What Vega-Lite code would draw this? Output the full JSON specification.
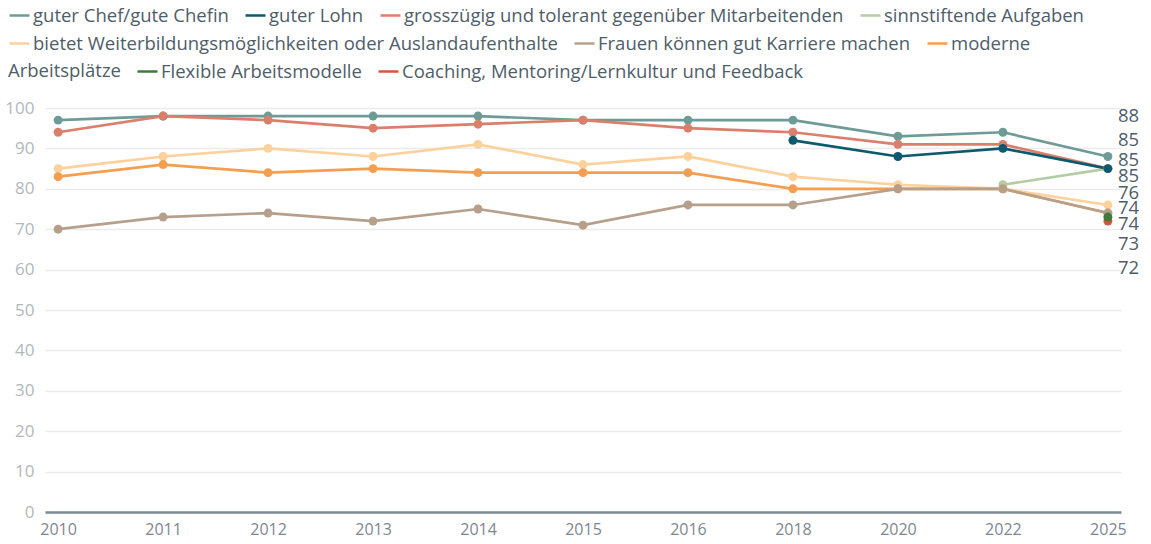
{
  "$schema": "https://vega.github.io/schema/vega-lite/v6.json",
  "width": 1076,
  "height": 404,
  "autosize": {"type": "none"},
  "padding": {"left": 45, "top": 108, "right": 30, "bottom": 32},
  "background": "white",
  "datasets": {
    "umfrage": [
      {"jahr": "2010", "merkmal": "guter Chef/gute Chefin", "wert": 97},
      {"jahr": "2011", "merkmal": "guter Chef/gute Chefin", "wert": 98},
      {"jahr": "2012", "merkmal": "guter Chef/gute Chefin", "wert": 98},
      {"jahr": "2013", "merkmal": "guter Chef/gute Chefin", "wert": 98},
      {"jahr": "2014", "merkmal": "guter Chef/gute Chefin", "wert": 98},
      {"jahr": "2015", "merkmal": "guter Chef/gute Chefin", "wert": 97},
      {"jahr": "2016", "merkmal": "guter Chef/gute Chefin", "wert": 97},
      {"jahr": "2018", "merkmal": "guter Chef/gute Chefin", "wert": 97},
      {"jahr": "2020", "merkmal": "guter Chef/gute Chefin", "wert": 93},
      {"jahr": "2022", "merkmal": "guter Chef/gute Chefin", "wert": 94},
      {"jahr": "2025", "merkmal": "guter Chef/gute Chefin", "wert": 88},
      {"jahr": "2010", "merkmal": "grosszügig und tolerant gegenüber Mitarbeitenden", "wert": 94},
      {"jahr": "2011", "merkmal": "grosszügig und tolerant gegenüber Mitarbeitenden", "wert": 98},
      {"jahr": "2012", "merkmal": "grosszügig und tolerant gegenüber Mitarbeitenden", "wert": 97},
      {"jahr": "2013", "merkmal": "grosszügig und tolerant gegenüber Mitarbeitenden", "wert": 95},
      {"jahr": "2014", "merkmal": "grosszügig und tolerant gegenüber Mitarbeitenden", "wert": 96},
      {"jahr": "2015", "merkmal": "grosszügig und tolerant gegenüber Mitarbeitenden", "wert": 97},
      {"jahr": "2016", "merkmal": "grosszügig und tolerant gegenüber Mitarbeitenden", "wert": 95},
      {"jahr": "2018", "merkmal": "grosszügig und tolerant gegenüber Mitarbeitenden", "wert": 94},
      {"jahr": "2020", "merkmal": "grosszügig und tolerant gegenüber Mitarbeitenden", "wert": 91},
      {"jahr": "2022", "merkmal": "grosszügig und tolerant gegenüber Mitarbeitenden", "wert": 91},
      {"jahr": "2025", "merkmal": "grosszügig und tolerant gegenüber Mitarbeitenden", "wert": 85},
      {"jahr": "2022", "merkmal": "sinnstiftende Aufgaben", "wert": 81},
      {"jahr": "2025", "merkmal": "sinnstiftende Aufgaben", "wert": 85},
      {"jahr": "2018", "merkmal": "guter Lohn", "wert": 92},
      {"jahr": "2020", "merkmal": "guter Lohn", "wert": 88},
      {"jahr": "2022", "merkmal": "guter Lohn", "wert": 90},
      {"jahr": "2025", "merkmal": "guter Lohn", "wert": 85},
      {"jahr": "2010", "merkmal": "bietet Weiterbildungsmöglichkeiten oder Auslandaufenthalte", "wert": 85},
      {"jahr": "2011", "merkmal": "bietet Weiterbildungsmöglichkeiten oder Auslandaufenthalte", "wert": 88},
      {"jahr": "2012", "merkmal": "bietet Weiterbildungsmöglichkeiten oder Auslandaufenthalte", "wert": 90},
      {"jahr": "2013", "merkmal": "bietet Weiterbildungsmöglichkeiten oder Auslandaufenthalte", "wert": 88},
      {"jahr": "2014", "merkmal": "bietet Weiterbildungsmöglichkeiten oder Auslandaufenthalte", "wert": 91},
      {"jahr": "2015", "merkmal": "bietet Weiterbildungsmöglichkeiten oder Auslandaufenthalte", "wert": 86},
      {"jahr": "2016", "merkmal": "bietet Weiterbildungsmöglichkeiten oder Auslandaufenthalte", "wert": 88},
      {"jahr": "2018", "merkmal": "bietet Weiterbildungsmöglichkeiten oder Auslandaufenthalte", "wert": 83},
      {"jahr": "2020", "merkmal": "bietet Weiterbildungsmöglichkeiten oder Auslandaufenthalte", "wert": 81},
      {"jahr": "2022", "merkmal": "bietet Weiterbildungsmöglichkeiten oder Auslandaufenthalte", "wert": 80},
      {"jahr": "2025", "merkmal": "bietet Weiterbildungsmöglichkeiten oder Auslandaufenthalte", "wert": 76},
      {"jahr": "2010", "merkmal": "moderne Arbeitsplätze", "wert": 83},
      {"jahr": "2011", "merkmal": "moderne Arbeitsplätze", "wert": 86},
      {"jahr": "2012", "merkmal": "moderne Arbeitsplätze", "wert": 84},
      {"jahr": "2013", "merkmal": "moderne Arbeitsplätze", "wert": 85},
      {"jahr": "2014", "merkmal": "moderne Arbeitsplätze", "wert": 84},
      {"jahr": "2015", "merkmal": "moderne Arbeitsplätze", "wert": 84},
      {"jahr": "2016", "merkmal": "moderne Arbeitsplätze", "wert": 84},
      {"jahr": "2018", "merkmal": "moderne Arbeitsplätze", "wert": 80},
      {"jahr": "2020", "merkmal": "moderne Arbeitsplätze", "wert": 80},
      {"jahr": "2022", "merkmal": "moderne Arbeitsplätze", "wert": 80},
      {"jahr": "2025", "merkmal": "moderne Arbeitsplätze", "wert": 74},
      {"jahr": "2010", "merkmal": "Frauen können gut Karriere machen", "wert": 70},
      {"jahr": "2011", "merkmal": "Frauen können gut Karriere machen", "wert": 73},
      {"jahr": "2012", "merkmal": "Frauen können gut Karriere machen", "wert": 74},
      {"jahr": "2013", "merkmal": "Frauen können gut Karriere machen", "wert": 72},
      {"jahr": "2014", "merkmal": "Frauen können gut Karriere machen", "wert": 75},
      {"jahr": "2015", "merkmal": "Frauen können gut Karriere machen", "wert": 71},
      {"jahr": "2016", "merkmal": "Frauen können gut Karriere machen", "wert": 76},
      {"jahr": "2018", "merkmal": "Frauen können gut Karriere machen", "wert": 76},
      {"jahr": "2020", "merkmal": "Frauen können gut Karriere machen", "wert": 80},
      {"jahr": "2022", "merkmal": "Frauen können gut Karriere machen", "wert": 80},
      {"jahr": "2025", "merkmal": "Frauen können gut Karriere machen", "wert": 74},
      {"jahr": "2025", "merkmal": "Coaching, Mentoring/Lernkultur und Feedback", "wert": 72},
      {"jahr": "2025", "merkmal": "Flexible Arbeitsmodelle", "wert": 73}
    ]
  },
  "data": {"name": "umfrage"},
  "encoding": {
    "x": {
      "field": "jahr",
      "type": "ordinal",
      "scale": {"type": "point", "padding": 0.125},
      "axis": {
        "title": null,
        "ticks": false,
        "domain": true,
        "domainColor": "#7d8a93",
        "domainWidth": 2.5,
        "labelAngle": 0,
        "labelPadding": 9,
        "labelFont": "Open Sans",
        "labelFontSize": 16,
        "labelColor": "#7d878f",
        "grid": false
      }
    },
    "y": {
      "field": "wert",
      "type": "quantitative",
      "scale": {"domain": [0, 100], "nice": false},
      "axis": {
        "title": null,
        "values": [0, 10, 20, 30, 40, 50, 60, 70, 80, 90, 100],
        "ticks": false,
        "domain": false,
        "grid": true,
        "gridColor": "#ebebeb",
        "gridWidth": 1.5,
        "labelPadding": 11,
        "labelFont": "Open Sans",
        "labelFontSize": 17,
        "labelColor": "#b3b7bb"
      }
    }
  },
  "layer": [
    {
      "transform": [{"filter": {"field": "merkmal", "oneOf": ["guter Chef/gute Chefin", "guter Lohn", "grosszügig und tolerant gegenüber Mitarbeitenden", "sinnstiftende Aufgaben"]}}],
      "encoding": {
        "color": {
          "field": "merkmal",
          "type": "nominal",
          "scale": {
            "domain": ["guter Chef/gute Chefin", "guter Lohn", "grosszügig und tolerant gegenüber Mitarbeitenden", "sinnstiftende Aufgaben"],
            "range": ["#6f9b97", "#0b5a6d", "#db7f6d", "#b2cca4"]
          },
          "legend": {"orient": "none", "legendX": -37, "legendY": -104, "direction": "horizontal", "title": null}
        }
      },
      "layer": [
        {"mark": {"type": "line", "strokeWidth": 2.7}},
        {"mark": {"type": "point", "filled": true, "size": 80, "opacity": 1}}
      ]
    },
    {
      "transform": [{"filter": {"field": "merkmal", "oneOf": ["bietet Weiterbildungsmöglichkeiten oder Auslandaufenthalte", "Frauen können gut Karriere machen", "moderne Arbeitsplätze"]}}],
      "encoding": {
        "color": {
          "field": "merkmal",
          "type": "nominal",
          "scale": {
            "domain": ["bietet Weiterbildungsmöglichkeiten oder Auslandaufenthalte", "Frauen können gut Karriere machen", "moderne Arbeitsplätze"],
            "range": ["#fdd19c", "#b6a08b", "#f59e50"]
          },
          "legend": {
            "orient": "none", "legendX": -37, "legendY": -76, "direction": "horizontal", "title": null,
            "labelExpr": "datum.label == 'moderne Arbeitsplätze' ? 'moderne' : datum.label"
          }
        }
      },
      "layer": [
        {"mark": {"type": "line", "strokeWidth": 2.7}},
        {"mark": {"type": "point", "filled": true, "size": 80, "opacity": 1}}
      ]
    },
    {
      "transform": [{"filter": {"field": "merkmal", "oneOf": ["Flexible Arbeitsmodelle", "Coaching, Mentoring/Lernkultur und Feedback"]}}],
      "encoding": {
        "color": {
          "field": "merkmal",
          "type": "nominal",
          "scale": {
            "domain": ["Coaching, Mentoring/Lernkultur und Feedback", "Flexible Arbeitsmodelle"],
            "range": ["#d4563b", "#3e7b3b"]
          },
          "legend": {
            "orient": "none", "legendX": -37, "legendY": -48, "direction": "horizontal",
            "title": "Arbeitsplätze",
            "titleOrient": "left",
            "titleFont": "Open Sans",
            "titleFontSize": 18.5,
            "titleFontWeight": "normal",
            "titleColor": "#4f5d69",
            "titlePadding": 15,
            "values": ["Flexible Arbeitsmodelle", "Coaching, Mentoring/Lernkultur und Feedback"]
          }
        }
      },
      "layer": [
        {"mark": {"type": "line", "strokeWidth": 2.7}},
        {"mark": {"type": "point", "filled": true, "size": 80, "opacity": 1}}
      ]
    },
    {
      "transform": [{"filter": "datum.jahr == '2025' && datum.merkmal == 'guter Chef/gute Chefin'"}],
      "mark": {"type": "text", "align": "left", "baseline": "middle", "dx": 10, "dy": -40, "font": "Open Sans", "fontSize": 18.5, "color": "#4f5d69"},
      "encoding": {"text": {"field": "wert", "type": "quantitative"}}
    },
    {
      "transform": [{"filter": "datum.jahr == '2025' && datum.merkmal == 'guter Lohn'"}],
      "mark": {"type": "text", "align": "left", "baseline": "middle", "dx": 10, "dy": -29, "font": "Open Sans", "fontSize": 18.5, "color": "#4f5d69"},
      "encoding": {"text": {"field": "wert", "type": "quantitative"}}
    },
    {
      "transform": [{"filter": "datum.jahr == '2025' && datum.merkmal == 'grosszügig und tolerant gegenüber Mitarbeitenden'"}],
      "mark": {"type": "text", "align": "left", "baseline": "middle", "dx": 10, "dy": -9, "font": "Open Sans", "fontSize": 18.5, "color": "#4f5d69"},
      "encoding": {"text": {"field": "wert", "type": "quantitative"}}
    },
    {
      "transform": [{"filter": "datum.jahr == '2025' && datum.merkmal == 'sinnstiftende Aufgaben'"}],
      "mark": {"type": "text", "align": "left", "baseline": "middle", "dx": 10, "dy": 7, "font": "Open Sans", "fontSize": 18.5, "color": "#4f5d69"},
      "encoding": {"text": {"field": "wert", "type": "quantitative"}}
    },
    {
      "transform": [{"filter": "datum.jahr == '2025' && datum.merkmal == 'bietet Weiterbildungsmöglichkeiten oder Auslandaufenthalte'"}],
      "mark": {"type": "text", "align": "left", "baseline": "middle", "dx": 10, "dy": -12, "font": "Open Sans", "fontSize": 18.5, "color": "#4f5d69"},
      "encoding": {"text": {"field": "wert", "type": "quantitative"}}
    },
    {
      "transform": [{"filter": "datum.jahr == '2025' && datum.merkmal == 'Frauen können gut Karriere machen'"}],
      "mark": {"type": "text", "align": "left", "baseline": "middle", "dx": 10, "dy": -5, "font": "Open Sans", "fontSize": 18.5, "color": "#4f5d69"},
      "encoding": {"text": {"field": "wert", "type": "quantitative"}}
    },
    {
      "transform": [{"filter": "datum.jahr == '2025' && datum.merkmal == 'moderne Arbeitsplätze'"}],
      "mark": {"type": "text", "align": "left", "baseline": "middle", "dx": 10, "dy": 11, "font": "Open Sans", "fontSize": 18.5, "color": "#4f5d69"},
      "encoding": {"text": {"field": "wert", "type": "quantitative"}}
    },
    {
      "transform": [{"filter": "datum.jahr == '2025' && datum.merkmal == 'Flexible Arbeitsmodelle'"}],
      "mark": {"type": "text", "align": "left", "baseline": "middle", "dx": 10, "dy": 27, "font": "Open Sans", "fontSize": 18.5, "color": "#4f5d69"},
      "encoding": {"text": {"field": "wert", "type": "quantitative"}}
    },
    {
      "transform": [{"filter": "datum.jahr == '2025' && datum.merkmal == 'Coaching, Mentoring/Lernkultur und Feedback'"}],
      "mark": {"type": "text", "align": "left", "baseline": "middle", "dx": 10, "dy": 47, "font": "Open Sans", "fontSize": 18.5, "color": "#4f5d69"},
      "encoding": {"text": {"field": "wert", "type": "quantitative"}}
    }
  ],
  "resolve": {"scale": {"color": "independent"}},
  "config": {
    "view": {"stroke": null},
    "legend": {
      "labelFont": "Open Sans",
      "labelFontSize": 18.5,
      "labelColor": "#4f5d69",
      "labelLimit": 800,
      "labelOffset": 2,
      "symbolType": "stroke",
      "symbolSize": 400,
      "symbolStrokeWidth": 2.5,
      "columnPadding": 11,
      "padding": 0
    }
  }
}
